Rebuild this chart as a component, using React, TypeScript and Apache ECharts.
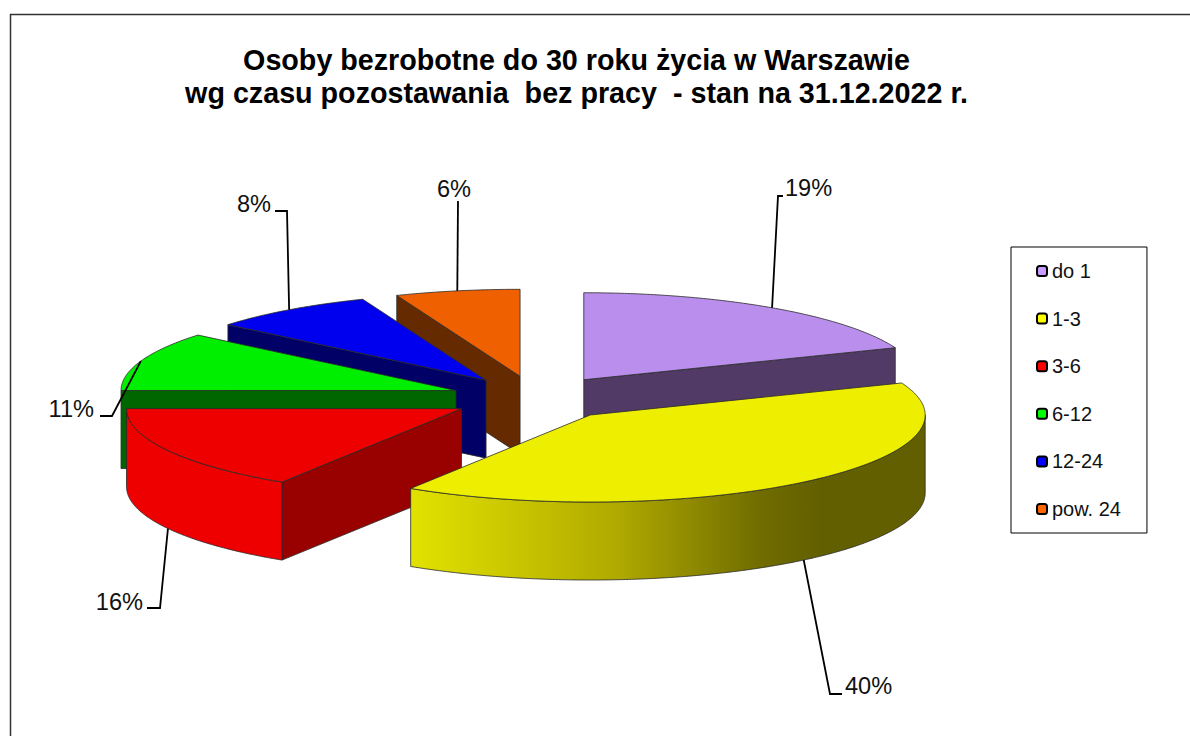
import React, { useEffect, useRef } from "react";
import * as echarts from "echarts";

const titleLines = [
  "Osoby bezrobotne do 30 roku życia w Warszawie",
  "wg czasu pozostawania  bez pracy  - stan na 31.12.2022 r.",
];
const categories = ["do 1", "1-3", "3-6", "6-12", "12-24", "pow. 24"];
const shares = [19, 40, 16, 11, 8, 6];
const legendColors = ["#C79BFF", "#FFFF00", "#FF0000", "#00FF00", "#0000FF", "#FF6600"];
const topColors = ["#B98EEC", "#EEEE00", "#EE0000", "#00EE00", "#0000EE", "#EE6000"];
const sideColors = ["#523A66", "#666600", "#990000", "#006600", "#000066", "#662A00"];
// Painter's order: later slices cover earlier ones.
const paintOrder = [0, 5, 4, 3, 2, 1];

const CX = 536;
const CY = 398;
const RX = 335;
const RY = 87;
const EXPLODE = 85;
const DEPTH = 78;
const FONT = "'Liberation Sans', Arial, sans-serif";

// Elbow, end of leader and text anchor, per slice.
const leaderLayout = [
  { elbow: [778, 196], end: [783, 196], text: [785, 188], align: "left" },
  { elbow: [830, 694], end: [842, 694], text: [845, 686], align: "left" },
  { elbow: [160, 608], end: [147, 608], text: [143, 602], align: "right" },
  { elbow: [112, 416], end: [100, 416], text: [94, 409], align: "right" },
  { elbow: [287, 211], end: [275, 211], text: [271, 204], align: "right" },
  { elbow: [458, 201], end: [458, 201], text: [471, 189], align: "right" },
];

const total = shares.reduce((a, b) => a + b, 0);
const startAngles: number[] = [];
shares.reduce((acc, v, i) => {
  startAngles[i] = acc;
  return acc + (v / total) * 360;
}, 0);
const rad = (d: number) => (d * Math.PI) / 180;

function geometry(i: number) {
  const a0 = startAngles[i];
  const a1 = a0 + (shares[i] / total) * 360;
  const mid = (a0 + a1) / 2;
  const ax = CX + EXPLODE * Math.sin(rad(mid));
  const ay = CY - EXPLODE * (RY / RX) * Math.cos(rad(mid));
  const rim = (deg: number, drop = 0): number[] => [
    ax + RX * Math.sin(rad(deg)),
    ay - RY * Math.cos(rad(deg)) + drop,
  ];
  return { a0, a1, mid, ax, ay, rim };
}

function arcPoints(rim: (d: number, drop?: number) => number[], from: number, to: number, drop = 0) {
  const pts: number[][] = [];
  const n = Math.max(2, Math.ceil((to - from) * 2));
  for (let k = 0; k <= n; k++) pts.push(rim(from + ((to - from) * k) / n, drop));
  return pts;
}

const OUTLINE = { stroke: "#2a2a2a", lineWidth: 0.8, lineJoin: "round" };

function renderSlice(i: number) {
  return () => {
    const { a0, a1, ax, ay, rim } = geometry(i);
    const children: any[] = [];
    const quad = (deg: number) => ({
      type: "polygon",
      shape: { points: [[ax, ay], rim(deg), rim(deg, DEPTH), [ax, ay + DEPTH]] },
      style: { fill: sideColors[i], ...OUTLINE },
    });
    if (Math.sin(rad(a0)) < -1e-6) children.push(quad(a0));
    if (Math.sin(rad(a1)) > 1e-6) children.push(quad(a1));
    const w0 = Math.max(a0, 90);
    const w1 = Math.min(a1, 270);
    if (w1 > w0) {
      const fill =
        i === 1
          ? new echarts.graphic.LinearGradient(1, 0, 0, 0, [
              { offset: 0, color: "#625F00" },
              { offset: 0.2, color: "#625F00" },
              { offset: 0.32, color: "#706C00" },
              { offset: 0.6, color: "#B0AA00" },
              { offset: 1, color: "#E2E200" },
            ])
          : topColors[i];
      children.push({
        type: "polygon",
        shape: {
          points: [...arcPoints(rim, w0, w1), ...arcPoints(rim, w0, w1, DEPTH).reverse()],
        },
        style: { fill, ...OUTLINE },
      });
    }
    children.push({
      type: "polygon",
      shape: { points: [[ax, ay], ...arcPoints(rim, a0, a1)] },
      style: { fill: topColors[i], ...OUTLINE },
    });
    return { type: "group", children };
  };
}

function renderLeader(params: any) {
  const i = params.dataIndex;
  const { mid, rim } = geometry(i);
  const layout = leaderLayout[i];
  const front = mid > 90 && mid < 270;
  const start = rim(mid, front ? DEPTH : 0);
  return {
    type: "group",
    children: [
      {
        type: "polyline",
        shape: { points: [start, layout.elbow, layout.end] },
        style: { fill: "none", stroke: "#000", lineWidth: 1.8 },
      },
      {
        type: "text",
        x: layout.text[0],
        y: layout.text[1],
        style: {
          text: `${Math.round((shares[i] / total) * 100)}%`,
          fontFamily: FONT,
          fontSize: 23.6,
          fill: "#111",
          align: layout.align,
          verticalAlign: "middle",
        },
      },
    ],
  };
}

export default function App() {
  const ref = useRef<HTMLDivElement>(null);
  useEffect(() => {
    const chart = echarts.init(ref.current!, undefined, { renderer: "svg" });
    chart.setOption({
      animation: false,
      backgroundColor: "#fff",
      title: {
        text: titleLines.join("\n"),
        left: 571.5,
        top: 38,
        textAlign: "center",
        textStyle: {
          fontFamily: FONT,
          fontWeight: "bold",
          fontSize: 28.7,
          lineHeight: 33,
          color: "#000",
        },
      },
      legend: {
        data: categories,
        orient: "vertical",
        left: 1011,
        top: 247,
        padding: [14, 26, 14, 25],
        itemWidth: 10,
        itemHeight: 10,
        itemGap: 27.6,
        borderColor: "#000",
        borderWidth: 1,
        backgroundColor: "#fff",
        selectedMode: false,
        itemStyle: { borderColor: "#000", borderWidth: 2 },
        textStyle: { fontFamily: FONT, fontSize: 20, color: "#111" },
      },
      graphic: [
        {
          type: "polyline",
          shape: { points: [[1190, 14.5], [10.5, 14.5], [10.5, 736]] },
          style: { fill: "none", stroke: "#333", lineWidth: 1.5 },
        },
      ],
      series: [
        ...categories.map((name, i) => ({
          type: "custom",
          name,
          coordinateSystem: "none",
          z: 2 + paintOrder.indexOf(i),
          itemStyle: { color: legendColors[i] },
          data: [shares[i]],
          renderItem: renderSlice(i),
        })),
        {
          type: "custom",
          name: "labels",
          coordinateSystem: "none",
          z: 20,
          data: shares,
          renderItem: renderLeader,
        },
      ],
    });
    return () => chart.dispose();
  }, []);
  return (
    <div
      ref={ref}
      style={{ position: "absolute", left: 0, top: 0, width: 1190, height: 736, overflow: "hidden" }}
    />
  );
}
